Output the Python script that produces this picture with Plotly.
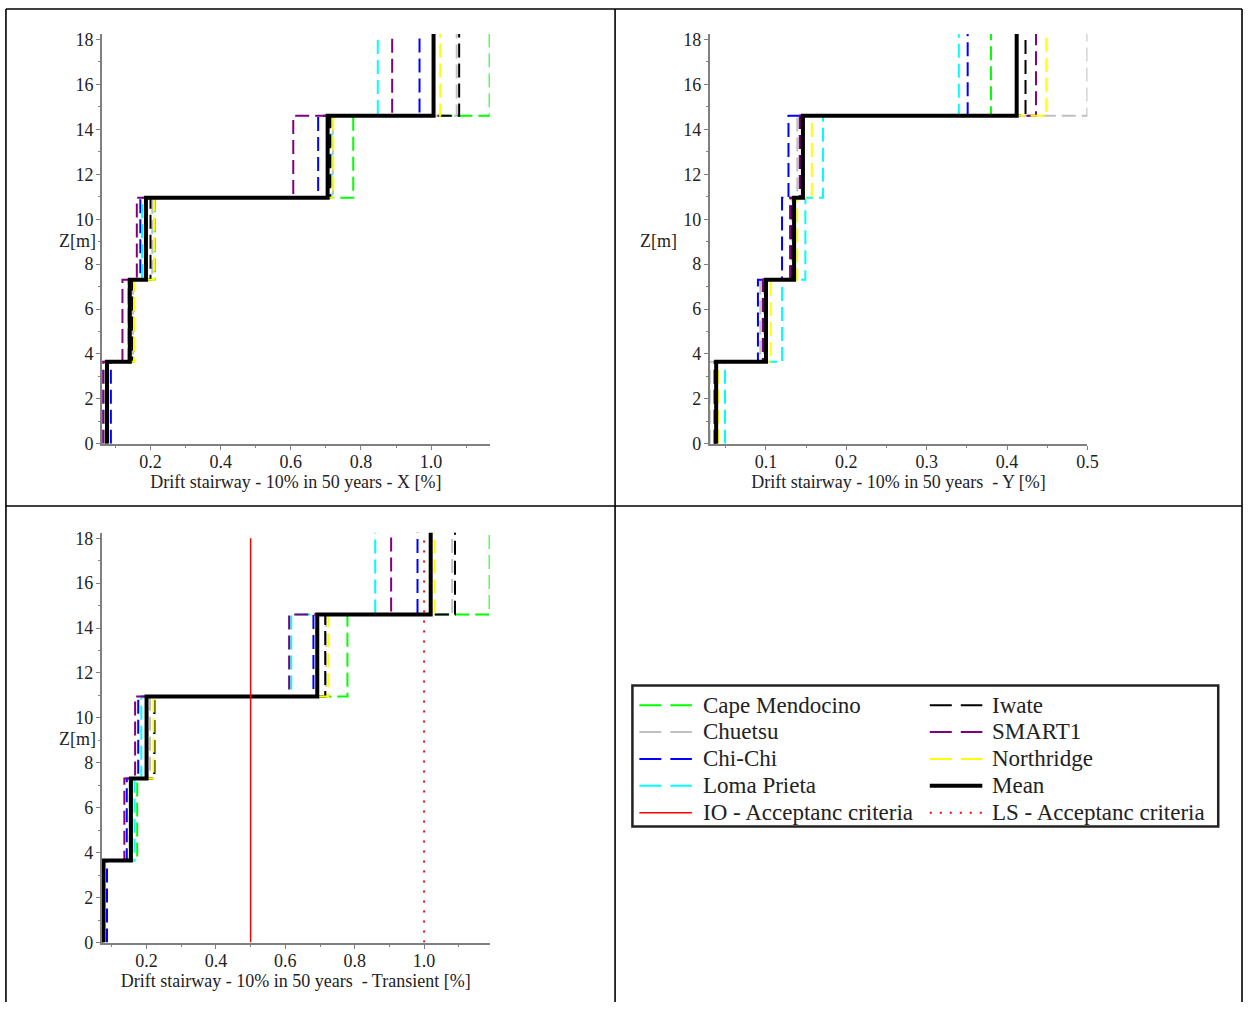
import plotly.graph_objects as go

# Storey levels of the stairway [m] (ground, 4 intermediate floors, roof)
floor_levels = [0.0, 3.65, 7.3, 10.95, 14.6, 18.25]

records = ["Cape Mendocino", "Chuetsu", "Chi-Chi", "Loma Prieta",
           "Iwate", "SMART1", "Northridge", "Mean"]

# Inter-storey drift [%] per storey (storey 1 .. storey 5), X direction
x_cape_mendocino = [0.074, 0.153, 0.212, 0.778, 1.167]
x_chuetsu        = [0.062, 0.150, 0.205, 0.720, 1.073]
x_chi_chi        = [0.087, 0.138, 0.171, 0.678, 0.967]
x_loma_prieta    = [0.078, 0.137, 0.176, 0.716, 0.848]
x_iwate          = [0.072, 0.148, 0.200, 0.712, 1.080]
x_smart1         = [0.065, 0.120, 0.161, 0.607, 0.889]
x_northridge     = [0.075, 0.153, 0.210, 0.721, 1.026]
x_mean           = [0.076, 0.141, 0.187, 0.705, 1.007]

# Y direction
y_cape_mendocino = [0.036, 0.098, 0.133, 0.145, 0.380]
y_chuetsu        = [0.030, 0.093, 0.136, 0.139, 0.500]
y_chi_chi        = [0.037, 0.090, 0.120, 0.128, 0.351]
y_loma_prieta    = [0.049, 0.120, 0.149, 0.171, 0.340]
y_iwate          = [0.037, 0.097, 0.131, 0.143, 0.423]
y_smart1         = [0.036, 0.096, 0.130, 0.142, 0.436]
y_northridge     = [0.041, 0.106, 0.139, 0.157, 0.449]
y_mean           = [0.038, 0.100, 0.135, 0.146, 0.412]

# Transient
t_cape_mendocino = [0.075, 0.173, 0.224, 0.779, 1.189]
t_chuetsu        = [0.071, 0.158, 0.210, 0.717, 1.081]
t_chi_chi        = [0.086, 0.143, 0.176, 0.681, 0.981]
t_loma_prieta    = [0.078, 0.165, 0.185, 0.617, 0.859]
t_iwate          = [0.074, 0.152, 0.222, 0.715, 1.089]
t_smart1         = [0.072, 0.136, 0.167, 0.611, 0.905]
t_northridge     = [0.076, 0.160, 0.220, 0.724, 1.030]
t_mean           = [0.076, 0.155, 0.200, 0.692, 1.019]

# Acceptance criteria [%] and the height they are drawn over [m]
io_limit = 0.5
ls_limit = 1.0
criteria_height = [0.0, 18.0]
criteria_names = ["IO - Acceptanc criteria", "LS - Acceptanc criteria"]

x_ticks = [0.2, 0.4, 0.6, 0.8, 1.0]
y_dir_ticks = [0.1, 0.2, 0.3, 0.4, 0.5]
z_ticks = [0, 2, 4, 6, 8, 10, 12, 14, 16, 18]

drift_x = [x_cape_mendocino, x_chuetsu, x_chi_chi, x_loma_prieta,
           x_iwate, x_smart1, x_northridge, x_mean]
drift_y = [y_cape_mendocino, y_chuetsu, y_chi_chi, y_loma_prieta,
           y_iwate, y_smart1, y_northridge, y_mean]
drift_t = [t_cape_mendocino, t_chuetsu, t_chi_chi, t_loma_prieta,
           t_iwate, t_smart1, t_northridge, t_mean]

colors = ["#00ff00", "#c0c0c0", "#0000ff", "#00ffff",
          "#000000", "#800080", "#ffff00", "#000000"]

FONT = "Liberation Serif"
TEXT = "#222222"
AXIS = "#808080"
W, H = 1256, 1012


def px(x):
    return x / W


def py(y):
    return 1 - y / H


def record_line(name, color):
    if name == "Mean":
        return dict(color=color, width=4)
    return dict(color=color, width=2, dash="14px,6px")


io_line = dict(color="#ff0000", width=1.5)
ls_line = dict(color="#ff0000", width=2, dash="2px,8px")


def stair(drifts):
    """Points for a 'vh' step line: one constant drift per storey."""
    return list(drifts) + [drifts[-1]], floor_levels


fig = go.Figure()

panels = [(drift_x, "x", "y"), (drift_y, "x2", "y2"), (drift_t, "x3", "y3")]

for data, xa, ya in panels:
    for name, d, c in zip(records, data, colors):
        xs, zs = stair(d)
        fig.add_trace(go.Scatter(
            x=xs, y=zs, mode="lines", line_shape="vh", name=name,
            line=record_line(name, c), xaxis=xa, yaxis=ya,
            showlegend=False, hoverinfo="skip"))

fig.add_trace(go.Scatter(
    x=[io_limit, io_limit], y=criteria_height, mode="lines",
    name=criteria_names[0], line=io_line, xaxis="x3", yaxis="y3",
    showlegend=False, hoverinfo="skip"))
fig.add_trace(go.Scatter(
    x=[ls_limit, ls_limit], y=criteria_height, mode="lines",
    name=criteria_names[1], line=ls_line, xaxis="x3", yaxis="y3",
    showlegend=False, hoverinfo="skip"))


def span(data):
    vals = [v for s in data for v in s]
    return [min(vals), max(vals)]


axis_line = dict(showline=True, linecolor=AXIS, linewidth=2,
                 ticks="outside", ticklen=4, tickwidth=1, tickcolor=AXIS,
                 showgrid=False, zeroline=False,
                 tickfont=dict(family=FONT, size=18, color=TEXT))


def xaxis(domain, rng, ticks, minor, title, anchor):
    return dict(axis_line, domain=domain, range=rng, tickvals=ticks,
                ticktext=[f"{t:.1f}" for t in ticks], anchor=anchor,
                ticklabelstandoff=-3,
                minor=dict(ticks="outside", ticklen=2, tickcolor=AXIS,
                           dtick=minor, tick0=0),
                title=dict(text=title, standoff=0,
                           font=dict(family=FONT, size=18, color=TEXT)))


def yaxis(domain, anchor):
    return dict(axis_line, domain=domain, range=[0, floor_levels[-1]],
                tickvals=z_ticks, anchor=anchor, ticklabelstandoff=-1,
                minor=dict(ticks="outside", ticklen=2, tickcolor=AXIS,
                           dtick=1, tick0=0))


top_y = [py(446), py(30.3)]
bot_y = [py(951.7), py(536)]

fig.update_layout(
    width=W, height=H, margin=dict(l=0, r=0, t=0, b=0),
    paper_bgcolor="white", plot_bgcolor="white", showlegend=False,
    xaxis=xaxis([px(103), px(494)], span(drift_x), x_ticks, 0.1,
                "Drift stairway - 10% in 50 years - X [%]", "y"),
    yaxis=yaxis(top_y, "x"),
    xaxis2=xaxis([px(716), px(1097)], span(drift_y), y_dir_ticks, 0.05,
                 "Drift stairway - 10% in 50 years  - Y [%]", "y2"),
    yaxis2=yaxis(top_y, "x2"),
    xaxis3=xaxis([px(102.7), px(494)], span(drift_t), x_ticks, 0.1,
                 "Drift stairway - 10% in 50 years  - Transient [%]", "y3"),
    yaxis3=yaxis(bot_y, "x3"),
)

# Vertical axis labels, set horizontally beside each axis
for x_px, y_px in [(78.5, 240), (664, 240), (78.5, 745)]:
    fig.add_annotation(text="Z[m]", x=px(x_px), y=py(y_px),
                       xref="paper", yref="paper", showarrow=False,
                       xanchor="center", yanchor="middle",
                       font=dict(family=FONT, size=18, color=TEXT))

# Table frame around the four cells
frame = dict(type="line", xref="paper", yref="paper",
             line=dict(color="black", width=1.6))
fig.add_shape(frame, x0=px(6), x1=px(1253), y0=py(5), y1=py(5))
fig.add_shape(frame, x0=px(6), x1=px(1253), y0=py(509), y1=py(509))
for xp in [6, 620.5, 1253]:
    fig.add_shape(frame, x0=px(xp), x1=px(xp), y0=0, y1=py(5))

# Two-column key in the fourth cell
key_styles = [record_line(n, c) for n, c in zip(records, colors)]
key_names = records[:4] + [criteria_names[0]] + records[4:] + [criteria_names[1]]
key_lines = key_styles[:4] + [io_line] + key_styles[4:] + [ls_line]
row_y = [711, 738.2, 765.5, 792.7, 820]
col_x = [(645, 698, 707), (938, 991, 999)]

for i, (name, style) in enumerate(zip(key_names, key_lines)):
    (x0, x1, xt), yy = col_x[i // 5], row_y[i % 5]
    sample = dict(style)
    if sample.get("dash") == "14px,6px":
        sample["dash"] = "22px,9px"
    fig.add_shape(type="line", xref="paper", yref="paper",
                  x0=px(x0), x1=px(x1), y0=py(yy), y1=py(yy), line=sample)
    fig.add_annotation(text=name, x=px(xt), y=py(yy), xref="paper",
                       yref="paper", showarrow=False, xanchor="left",
                       yanchor="middle",
                       font=dict(family=FONT, size=23, color=TEXT))

fig.add_shape(type="rect", xref="paper", yref="paper",
              x0=px(638), x1=px(1229), y0=py(834), y1=py(691),
              line=dict(color="#222222", width=2.5))

fig.write_html("out.html")
